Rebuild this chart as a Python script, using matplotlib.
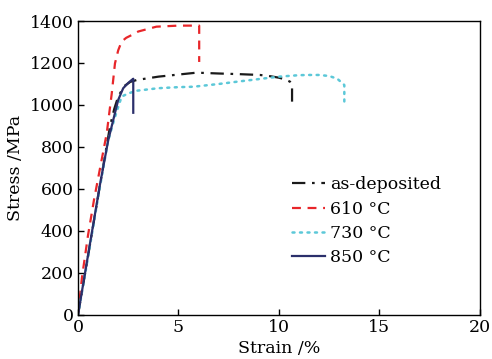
import numpy as np
import matplotlib.pyplot as plt

plt.rcParams['font.family'] = ['DejaVu Serif', 'Liberation Serif']

# as-deposited
asdep_strain = [0, 0.5, 1.0, 1.59, 1.8, 2.0, 2.3, 2.6, 2.92, 4.0, 5.0, 5.9, 7.0, 8.0, 9.05, 9.5, 10.0, 10.3, 10.55, 10.65, 10.65]
asdep_stress = [0, 280, 565, 897, 980, 1040, 1090, 1110, 1119, 1135, 1145, 1154, 1150, 1147, 1143, 1138, 1130, 1122, 1111, 1100, 1016]

# 610 C
t610_strain = [0, 0.2, 0.5, 0.8, 1.1, 1.43, 1.68, 1.84, 2.0, 2.17, 2.4, 2.67, 3.0, 3.9, 5.0, 5.9, 6.03, 6.03]
t610_stress = [0, 180, 380, 550, 700, 865, 1055, 1198, 1260, 1302, 1320, 1333, 1350, 1373, 1378, 1378, 1378, 1205]

# 730 C
t730_strain = [0, 0.5, 1.0, 1.5, 1.8, 2.0, 2.17, 2.5, 2.92, 4.0, 5.0, 5.74, 7.0, 8.0, 9.05, 10.0, 11.0, 11.46, 12.0, 12.5, 12.9, 13.2, 13.25, 13.25]
t730_stress = [0, 275, 560, 830, 930, 990, 1040, 1055, 1068, 1080, 1085, 1087, 1100, 1112, 1124, 1135, 1142, 1143, 1143, 1138, 1125, 1100, 1095, 1000]

# 850 C
t850_strain = [0, 0.5, 1.09, 1.5, 2.0, 2.25, 2.5, 2.67, 2.75, 2.75]
t850_stress = [0, 285, 619, 830, 1024, 1080, 1105, 1119, 1125, 963]

fig = plt.figure(figsize=(4.92, 3.59), dpi=100)
ax = fig.add_axes([0.1585, 0.1226, 0.8171, 0.8189])

ax.plot(asdep_strain, asdep_stress, color='#1a1a1a', lw=1.6, dashes=(6, 3, 1.2, 3), label='as-deposited')
ax.plot(t610_strain, t610_stress, color='#e8262a', lw=1.6, dashes=(4, 3), label='610 \u00b0C')
ax.plot(t730_strain, t730_stress, color='#5cc8d8', lw=1.8, dashes=(0.8, 2.2), dash_capstyle='round', label='730 \u00b0C')
ax.plot(t850_strain, t850_stress, color='#2b2f6b', lw=1.6, label='850 \u00b0C')

ax.set_xlim(0, 20)
ax.set_ylim(0, 1400)
ax.set_xticks([0, 5, 10, 15, 20])
ax.set_yticks(np.arange(0, 1401, 200))
ax.tick_params(direction='in', labelsize=12.5, length=4, width=1, pad=3)
ax.set_xlabel('Strain /%', fontsize=12.5, labelpad=3)
ax.set_ylabel('Stress /MPa', fontsize=12.5, labelpad=4)
for s in ax.spines.values():
    s.set_linewidth(1.0)

ax.legend(loc='upper left', bbox_to_anchor=(0.515, 0.495), frameon=False, fontsize=12.5,
          handlelength=1.9, handletextpad=0.3, labelspacing=0.42, borderaxespad=0)

fig.savefig('out.png', dpi=100)
